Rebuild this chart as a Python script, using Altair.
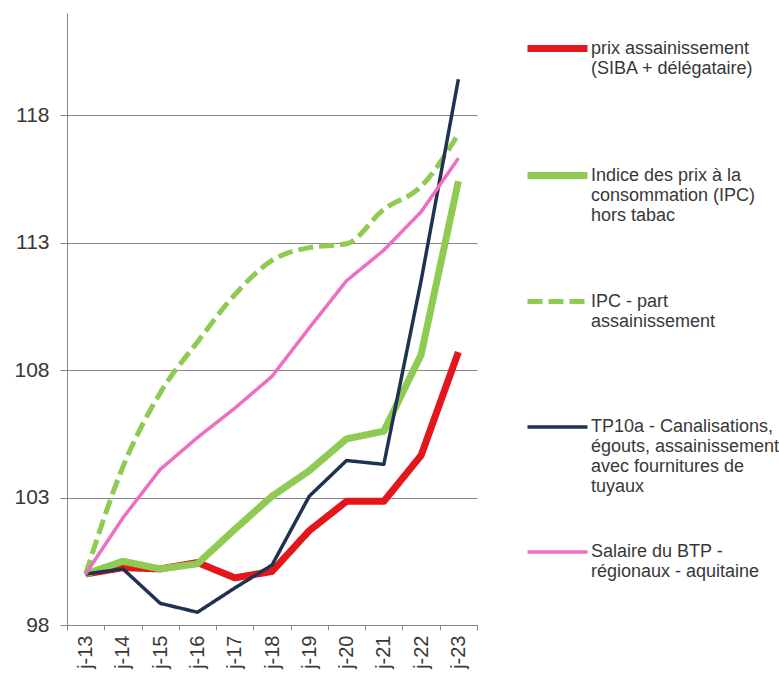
import altair as alt
import pandas as pd

# ---- data ----
periods = ["j-13", "j-14", "j-15", "j-16", "j-17", "j-18", "j-19", "j-20", "j-21", "j-22", "j-23"]

series_names = [
    "prix assainissement\n(SIBA + délégataire)",
    "Indice des prix à la\nconsommation (IPC)\nhors tabac",
    "IPC - part\nassainissement",
    "TP10a - Canalisations,\négouts, assainissement\navec fournitures de\ntuyaux",
    "Salaire du BTP -\nrégionaux - aquitaine",
]

prix_assainissement = [100.0, 100.25, 100.2, 100.45, 99.85, 100.1, 101.7, 102.85, 102.85, 104.65, 108.7]
ipc_hors_tabac = [100.0, 100.5, 100.2, 100.4, 101.75, 103.05, 104.05, 105.3, 105.6, 108.6, 115.4]
ipc_assainissement = [100.0, 104.2, 107.1, 109.1, 110.95, 112.3, 112.8, 112.95, 114.3, 115.2, 117.25]
tp10a = [100.0, 100.2, 98.85, 98.5, 99.45, 100.35, 103.05, 104.45, 104.3, 111.5, 119.4]
salaire_btp = [100.0, 102.2, 104.1, 105.35, 106.5, 107.75, 109.65, 111.5, 112.7, 114.2, 116.3]

y_ticks = [98, 103, 108, 113, 118]

colors = ["#E3161C", "#8FCB52", "#8FCB52", "#1F3350", "#EE6EC2"]
dashes = [[1, 0], [1, 0], [15, 6], [1, 0], [1, 0]]
widths = [7, 7, 5, 3.5, 3.5]

all_values = [prix_assainissement, ipc_hors_tabac, ipc_assainissement, tp10a, salaire_btp]

rows = []
for name, vals in zip(series_names, all_values):
    for p, v in zip(periods, vals):
        rows.append({"periode": p, "indice": v, "serie": name})
df = pd.DataFrame(rows)

FONT = "Liberation Sans"
GRAY = "#868686"
TEXT = "#383838"

legend = alt.Legend(
    title=None,
    orient="none",
    legendX=457,
    legendY=2,
    padding=0,
    rowPadding=24,
    symbolType="stroke",
    symbolSize=3600,
    labelOffset=0,
    labelFont=FONT,
    labelFontSize=18,
    labelColor=TEXT,
    labelBaseline="middle",
    labelLimit=300,
    labelExpr="slice(split(datum.label + '\\n\\n\\n', '\\n'), 0, 4)",
)

base = alt.Chart(df)

def layer(interp, names):
    return base.transform_filter(
        alt.FieldOneOfPredicate(field="serie", oneOf=names)
    ).mark_line(interpolate=interp, strokeJoin="round").encode(
        x=alt.X(
            "periode:N",
            sort=periods,
            bandPosition=0.5,
            scale=alt.Scale(type="band", paddingInner=0, paddingOuter=0, domain=periods),
            axis=alt.Axis(
                title=None,
                labelAngle=-90,
                labelFont=FONT,
                labelFontSize=20,
                labelColor=TEXT,
                labelPadding=5,
                tickColor=GRAY,
                tickSize=5,
                tickBand="extent",
                domainColor=GRAY,
                grid=False,
            ),
        ),
        y=alt.Y(
            "indice:Q",
            scale=alt.Scale(domain=[98, 122], zero=False, nice=False),
            axis=alt.Axis(
                title=None,
                values=y_ticks,
                labelFont=FONT,
                labelFontSize=21,
                labelColor=TEXT,
                labelPadding=11,
                tickColor=GRAY,
                tickSize=7,
                domainColor=GRAY,
                gridColor=GRAY,
                gridWidth=1,
            ),
        ),
        color=alt.Color("serie:N", scale=alt.Scale(domain=series_names, range=colors), legend=legend),
        strokeDash=alt.StrokeDash("serie:N", scale=alt.Scale(domain=series_names, range=dashes), legend=legend),
        strokeWidth=alt.StrokeWidth("serie:N", scale=alt.Scale(type="ordinal", domain=series_names, range=widths), legend=legend),
        order=alt.Order("periode:N"),
    )

lines_linear = layer("linear", [series_names[0], series_names[1]])
dashed = layer("monotone", [series_names[2]])
lines_thin = layer("linear", [series_names[3], series_names[4]])

chart = alt.layer(lines_linear, dashed, lines_thin).properties(
    width=410,
    height=612,
    autosize=alt.AutoSizeParams(type="none"),
    padding={"left": 67, "top": 13, "right": 302, "bottom": 53},
    background="white",
).configure_view(stroke=None)

chart.save("out.html", embed_options={"renderer": "svg", "actions": False})
